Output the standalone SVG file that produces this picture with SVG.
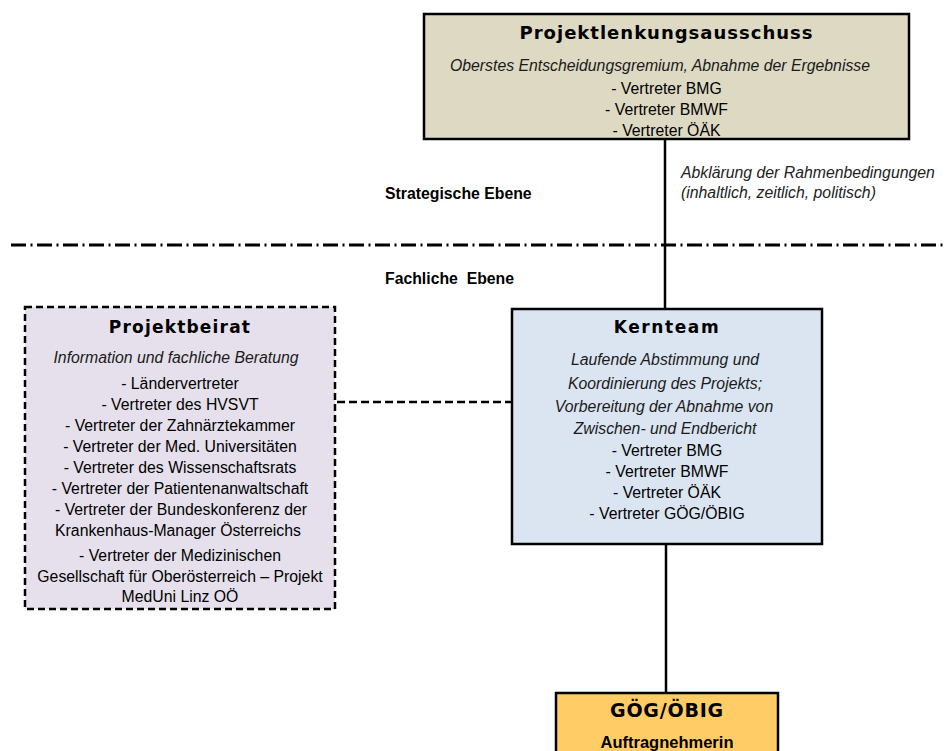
<svg xmlns="http://www.w3.org/2000/svg" width="944" height="751" viewBox="0 0 944 751">
<style>
.box{stroke:#000;stroke-width:2.5}
.title{font-family:"DejaVu Sans","Liberation Sans",sans-serif;font-weight:bold;font-size:17px;letter-spacing:1.4px;text-anchor:middle;fill:#000}
.t{font-family:"Liberation Sans",Arial,sans-serif;font-size:15.8px;fill:#000;text-anchor:middle}
.i{font-style:italic;fill:#1a1a1a}
.lbl{font-family:"Liberation Sans",Arial,sans-serif;font-size:15.8px;font-weight:bold;fill:#000}
.side{font-family:"Liberation Sans",Arial,sans-serif;font-size:15.8px;font-style:italic;fill:#222}
.conn{stroke:#000;stroke-width:2.5;fill:none}
</style>
<rect width="944" height="751" fill="#fff"/>
<g id="levels">
<line x1="11" y1="245" x2="944" y2="245" stroke="#000" stroke-width="3" stroke-dasharray="15 4.5 2 4.5"/>
<text class="lbl" x="385" y="199">Strategische Ebene</text>
<text class="lbl" x="385" y="284" xml:space="preserve">Fachliche  Ebene</text>
</g>
<g id="connectors">
<line class="conn" x1="665" y1="139" x2="665" y2="309"/>
<line class="conn" x1="666" y1="544" x2="666" y2="693"/>
<line class="conn" x1="337" y1="402" x2="511" y2="402" stroke-dasharray="8 4"/>
<text class="side" x="681" y="178">Abklärung der Rahmenbedingungen</text>
<text class="side" x="681" y="198">(inhaltlich, zeitlich, politisch)</text>
</g>
<g id="projektlenkungsausschuss">
<rect class="box" x="424" y="14" width="485" height="125" fill="#DDD9C3"/>
<text class="title" x="666.5" y="39" style="font-size:18px;letter-spacing:1px">Projektlenkungsausschuss</text>
<text class="t i" x="660" y="71">Oberstes Entscheidungsgremium, Abnahme der Ergebnisse</text>
<text class="t" x="666.5" y="94">- Vertreter BMG</text>
<text class="t" x="666.5" y="115">- Vertreter BMWF</text>
<text class="t" x="666.5" y="136">- Vertreter ÖÄK</text>
</g>
<g id="projektbeirat">
<rect class="box" x="25" y="307" width="310" height="302" fill="#E5E0EC" stroke-dasharray="7 4"/>
<text class="title" x="180" y="333" style="letter-spacing:1.2px">Projektbeirat</text>
<text class="t i" x="176" y="363">Information und fachliche Beratung</text>
<text class="t" x="180" y="389">- Ländervertreter</text>
<text class="t" x="180" y="410">- Vertreter des HVSVT</text>
<text class="t" x="180" y="431">- Vertreter der Zahnärztekammer</text>
<text class="t" x="180" y="452">- Vertreter der Med. Universitäten</text>
<text class="t" x="180" y="473">- Vertreter des Wissenschaftsrats</text>
<text class="t" x="180" y="494">- Vertreter der Patientenanwaltschaft</text>
<text class="t" x="181" y="515">- Vertreter der Bundeskonferenz der</text>
<text class="t" x="178" y="536">Krankenhaus-Manager Österreichs</text>
<text class="t" x="180" y="561">- Vertreter der Medizinischen</text>
<text class="t" x="180" y="582">Gesellschaft für Oberösterreich – Projekt</text>
<text class="t" x="180" y="602">MedUni Linz OÖ</text>
</g>
<g id="kernteam">
<rect class="box" x="512" y="309" width="310" height="235" fill="#DBE5F1"/>
<text class="title" x="667" y="333" style="letter-spacing:1.6px">Kernteam</text>
<text class="t i" x="665" y="365">Laufende Abstimmung und</text>
<text class="t i" x="665" y="389">Koordinierung des Projekts;</text>
<text class="t i" x="664" y="412">Vorbereitung der Abnahme von</text>
<text class="t i" x="665" y="434">Zwischen- und Endbericht</text>
<text class="t" x="667" y="456">- Vertreter BMG</text>
<text class="t" x="667" y="477">- Vertreter BMWF</text>
<text class="t" x="667" y="498">- Vertreter ÖÄK</text>
<text class="t" x="667" y="519">- Vertreter GÖG/ÖBIG</text>
</g>
<g id="goeg-oebig">
<rect class="box" x="556" y="693" width="222" height="70" fill="#FFCC66"/>
<text class="title" x="667" y="717" style="font-size:19px;letter-spacing:0.8px">GÖG/ÖBIG</text>
<text class="t" x="667" y="748" style="font-weight:bold;font-size:16.5px">Auftragnehmerin</text>
</g>
</svg>
